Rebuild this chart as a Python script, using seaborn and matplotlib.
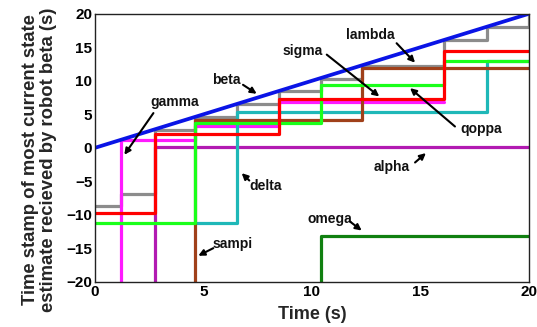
import seaborn as sns
import numpy as np
import pandas as pd
import matplotlib
matplotlib.use('Agg')
import matplotlib.pyplot as plt

sns.set_style('white')
plt.rcParams['font.family'] = ['Liberation Sans', 'DejaVu Sans']
plt.rcParams['font.weight'] = 'bold'

# step series: value y[i] holds from t[i] to t[i+1]
beta_t = [0, 20]
beta_y = [0, 20]

lambda_t = [0, 1.2, 2.75, 4.6, 6.55, 8.5, 10.4, 12.3, 16.1, 18.05, 20]
lambda_y = [-8.7, -6.9, 2.7, 4.6, 6.5, 8.4, 10.3, 12.2, 16.1, 18.0, 20]

alpha_t = [2.75, 2.75, 20]
alpha_y = [-20, 0.1, 0.1]

gamma_t = [1.2, 1.2, 4.6, 8.5, 16.1]
gamma_y = [-20, 1.2, 3.2, 6.8, 6.8]

delta_t = [4.6, 6.55, 18.05, 20]
delta_y = [-11.2, 5.3, 12.9, 12.9]

sampi_t = [4.6, 4.6, 12.3, 20]
sampi_y = [-20, 4.2, 11.9, 11.9]

qoppa_t = [0, 4.6, 10.4, 16.1, 20]
qoppa_y = [-11.2, 3.7, 9.3, 13.0, 13.0]

sigma_t = [0, 2.75, 8.5, 16.1, 20]
sigma_y = [-9.8, 2.0, 7.3, 14.4, 14.4]

omega_t = [10.4, 10.4, 20]
omega_y = [-20, -13.1, -13.1]

# drawing order, bottom to top
series = [
    ('lambda', lambda_t, lambda_y, '#8c8c8c'),
    ('alpha', alpha_t, alpha_y, '#b21ab2'),
    ('gamma', gamma_t, gamma_y, '#ff1aff'),
    ('delta', delta_t, delta_y, '#1fb8b8'),
    ('sampi', sampi_t, sampi_y, '#a0401a'),
    ('qoppa', qoppa_t, qoppa_y, '#1aff1a'),
    ('sigma', sigma_t, sigma_y, '#ff0000'),
    ('omega', omega_t, omega_y, '#108010'),
]

fig = plt.figure(figsize=(5.37, 3.27), dpi=100)
ax = fig.add_axes([0.177, 0.138, 0.808, 0.82])

for name, t, y, c in series:
    df = pd.DataFrame({'t': t, 'y': y})
    sns.lineplot(data=df, x='t', y='y', ax=ax, color=c, lw=2.3,
                 estimator=None, sort=False, drawstyle='steps-post')

sns.lineplot(x=beta_t, y=beta_y, ax=ax, color='#0a14e6', lw=2.7,
             estimator=None, sort=False)

ax.set_xlim(0, 20)
ax.set_ylim(-20, 20)
ax.set_xticks([0, 5, 10, 15, 20])
ax.set_yticks(np.arange(-20, 21, 5))
ax.tick_params(direction='in', length=3, width=0.8, labelsize=11,
               pad=2, colors='#222222')
for lbl in ax.get_xticklabels() + ax.get_yticklabels():
    lbl.set_fontweight('bold')
    lbl.set_color('black')
for sp in ax.spines.values():
    sp.set_color('#222222')
    sp.set_linewidth(1.0)

ax.set_xlabel('Time (s)', fontsize=13, fontweight='bold', labelpad=5)
ax.set_ylabel('Time stamp of most current state\nestimate recieved by robot beta (s)',
              fontsize=13.3, fontweight='bold', labelpad=7, linespacing=1.05)
ax.yaxis.label.set_y(0.455)

# labels with arrows: (text, text pos, arrow tail, arrow head)
notes = [
    ('beta', (6.07, 10.15), (6.82, 9.4), (7.45, 8.06)),
    ('gamma', (3.69, 6.76), (2.69, 5.18), (1.35, -1.04)),
    ('sigma', (9.57, 14.5), (10.68, 13.9), (13.1, 7.66)),
    ('lambda', (12.67, 16.87), (13.9, 15.6), (14.75, 12.7)),
    ('qoppa', (17.82, 2.79), (16.59, 3.18), (14.52, 8.9)),
    ('alpha', (13.67, -2.79), (14.75, -2.19), (15.25, -0.79)),
    ('omega', (10.83, -10.65), (11.75, -11.0), (12.29, -12.34)),
    ('delta', (7.88, -5.67), (7.11, -4.88), (6.76, -3.78)),
    ('sampi', (6.35, -14.33), (5.45, -14.97), (4.76, -16.1)),
]
for txt, pos, tail, head in notes:
    ax.text(pos[0], pos[1], txt, fontsize=10, fontweight='bold',
            ha='center', va='center', color='#111111')
    ax.annotate('', xy=head, xytext=tail,
                arrowprops=dict(arrowstyle='-|>', color='black', lw=1.5,
                                mutation_scale=9, shrinkA=0, shrinkB=0))

fig.savefig('out.png', dpi=100)
